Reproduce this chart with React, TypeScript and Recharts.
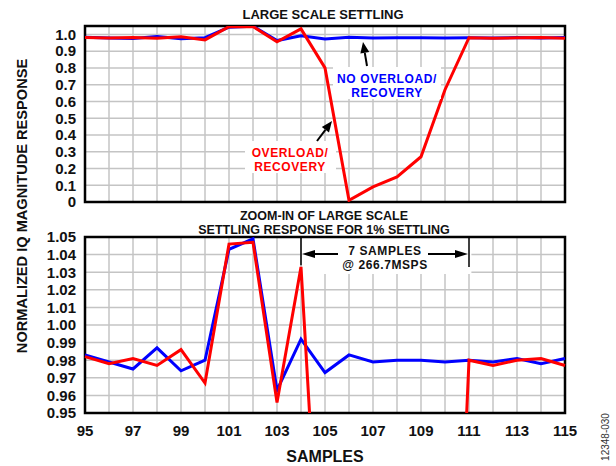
import { LineChart, Line, XAxis, YAxis, CartesianGrid, ReferenceArea, ReferenceLine } from 'recharts';

const samples = [95, 96, 97, 98, 99, 100, 101, 102, 103, 104, 105, 106, 107, 108, 109, 110, 111, 112, 113, 114, 115];
const noOverload = [0.983, 0.979, 0.975, 0.987, 0.974, 0.98, 1.043, 1.049, 0.963, 0.992, 0.973, 0.983, 0.979, 0.98, 0.98, 0.979, 0.98, 0.979, 0.981, 0.978, 0.981];
const overload = [0.982, 0.978, 0.981, 0.977, 0.986, 0.967, 1.046, 1.047, 0.956, 1.033, 0.8, 0.01, 0.09, 0.15, 0.27, 0.67, 0.98, 0.977, 0.98, 0.981, 0.977];

const largeTicks = [0, 0.1, 0.2, 0.3, 0.4, 0.5, 0.6, 0.7, 0.8, 0.9, 1.0];
const zoomTicks = [0.95, 0.96, 0.97, 0.98, 0.99, 1.0, 1.01, 1.02, 1.03, 1.04, 1.05];

const data = samples.map((s, i) => ({ sample: s, noOverload: noOverload[i], overload: overload[i] }));

const FONT = '"Liberation Sans", Arial, sans-serif';
const RED = '#ff0000';
const BLUE = '#0000ff';
const GRID = '#c4c4c4';
const tickStyle = { fontFamily: FONT, fontWeight: 700, fontSize: 15, fill: '#111' };

// arrow from tail to tip with a filled head
function Arrow({ x1, y1, x2, y2, head = 11, half = 4.5 }: { x1: number; y1: number; x2: number; y2: number; head?: number; half?: number }) {
    const dx = x2 - x1;
    const dy = y2 - y1;
    const len = Math.sqrt(dx * dx + dy * dy);
    const ux = dx / len;
    const uy = dy / len;
    const bx = x2 - ux * head;
    const by = y2 - uy * head;
    const pts = `${x2},${y2} ${bx - uy * half},${by + ux * half} ${bx + uy * half},${by - ux * half}`;
    return (
        <g>
            <line x1={x1} y1={y1} x2={bx} y2={by} stroke="#000" strokeWidth={2} />
            <polygon points={pts} fill="#000" />
        </g>
    );
}

export default function App() {
    return (
        <div style={{ position: 'absolute', left: 0, top: 0, width: 616, height: 466, background: '#fff' }}>
            {/* Large scale settling */}
            <div style={{ position: 'absolute', left: 0, top: 0 }}>
                <LineChart width={616} height={215} data={data} margin={{ top: 26, right: 51, bottom: 13, left: 25 }}>
                    <CartesianGrid stroke={GRID} strokeWidth={1.5} />
                    <XAxis dataKey="sample" type="number" domain={[95, 115]} ticks={samples} interval={0} hide />
                    <YAxis
                        type="number"
                        domain={[0, 1.05]}
                        ticks={largeTicks}
                        interval={0}
                        allowDataOverflow
                        width={60}
                        axisLine={false}
                        tickLine={false}
                        tickSize={6}
                        tickMargin={3}
                        tick={tickStyle}
                        tickFormatter={(v: number) => (v === 0 ? '0' : v.toFixed(1))}
                    />
                    <Line type="linear" dataKey="noOverload" stroke={BLUE} strokeWidth={3} dot={false} isAnimationActive={false} />
                    <Line type="linear" dataKey="overload" stroke={RED} strokeWidth={3} dot={false} isAnimationActive={false} />
                    <ReferenceArea x1={95} x2={115} y1={0} y2={1.05} fill="none" stroke="#000" strokeWidth={2.5} />
                </LineChart>
            </div>

            {/* Zoom-in */}
            <div style={{ position: 'absolute', left: 0, top: 210 }}>
                <LineChart width={616} height={256} data={data} margin={{ top: 27, right: 51, bottom: 23, left: 25 }}>
                    <CartesianGrid stroke={GRID} strokeWidth={1.5} />
                    <XAxis
                        dataKey="sample"
                        type="number"
                        domain={[95, 115]}
                        ticks={samples}
                        interval={0}
                        height={30}
                        axisLine={false}
                        tickLine={false}
                        tickSize={6}
                        tickMargin={6}
                        tick={tickStyle}
                        tickFormatter={(v: number) => (v % 2 === 1 ? String(v) : '')}
                    />
                    <YAxis
                        type="number"
                        domain={[0.95, 1.05]}
                        ticks={zoomTicks}
                        interval={0}
                        allowDataOverflow
                        width={60}
                        axisLine={false}
                        tickLine={false}
                        tickSize={6}
                        tickMargin={3}
                        tick={tickStyle}
                        tickFormatter={(v: number) => v.toFixed(2)}
                    />
                    <ReferenceArea x1={104.05} x2={111.1} y1={1.029} y2={1.05} fill="#fff" fillOpacity={1} stroke="none" />
                    <Line type="linear" dataKey="noOverload" stroke={BLUE} strokeWidth={3} dot={false} isAnimationActive={false} />
                    <Line type="linear" dataKey="overload" stroke={RED} strokeWidth={3} dot={false} isAnimationActive={false} />
                    <ReferenceLine segment={[{ x: 104, y: 1.05 }, { x: 104, y: 1.034 }]} stroke="#000" strokeWidth={1.5} />
                    <ReferenceLine segment={[{ x: 111, y: 1.05 }, { x: 111, y: 1.033 }]} stroke="#000" strokeWidth={1.5} />
                    <ReferenceArea x1={95} x2={115} y1={0.95} y2={1.05} fill="none" stroke="#000" strokeWidth={2.5} />
                </LineChart>
            </div>

            {/* texts and annotations */}
            <svg width={616} height={466} style={{ position: 'absolute', left: 0, top: 0, pointerEvents: 'none' }}>
                <g fontFamily={FONT} fontWeight={700} fill="#111" textAnchor="middle">
                    <text x={323} y={18.5} fontSize={13}>LARGE SCALE SETTLING</text>
                    <text x={324} y={219.5} fontSize={12.5}>ZOOM-IN OF LARGE SCALE</text>
                    <text x={324} y={234} fontSize={12.5}>SETTLING RESPONSE FOR 1% SETTLING</text>
                    <text x={325} y={462} fontSize={16}>SAMPLES</text>
                    <text x={27} y={206} fontSize={14.6} transform="rotate(-90, 27, 206)">NORMALIZED IQ MAGNITUDE RESPONSE</text>
                </g>
                <text x={609} y={437} fontFamily={FONT} fontSize={10} fill="#333" textAnchor="middle" transform="rotate(-90, 609, 437)">12348-030</text>

                {/* no overload label */}
                <rect x={333} y={67} width={108} height={32} fill="#fff" />
                <g fontFamily={FONT} fontWeight={700} fontSize={12} letterSpacing={0.6} fill={BLUE} textAnchor="middle">
                    <text x={387} y={82.5}>NO OVERLOAD/</text>
                    <text x={387} y={96.5}>RECOVERY</text>
                </g>
                <Arrow x1={367} y1={66} x2={363} y2={42} />

                {/* overload label */}
                <rect x={245} y={141} width={91} height={32} fill="#fff" />
                <g fontFamily={FONT} fontWeight={700} fontSize={12} letterSpacing={0.6} fill={RED} textAnchor="middle">
                    <text x={290} y={156.5}>OVERLOAD/</text>
                    <text x={290} y={170.5}>RECOVERY</text>
                </g>
                <Arrow x1={317} y1={141} x2={332} y2={121} />

                {/* 7 samples span */}
                <g fontFamily={FONT} fontWeight={700} fontSize={12} letterSpacing={0.6} fill="#111" textAnchor="middle">
                    <text x={385} y={254.5}>7 SAMPLES</text>
                    <text x={385} y={268.5}>@ 266.7MSPS</text>
                </g>
                <Arrow x1={338} y1={254} x2={302} y2={254} head={13} half={4} />
                <Arrow x1={428} y1={254} x2={468} y2={254} head={13} half={4} />
            </svg>
        </div>
    );
}
